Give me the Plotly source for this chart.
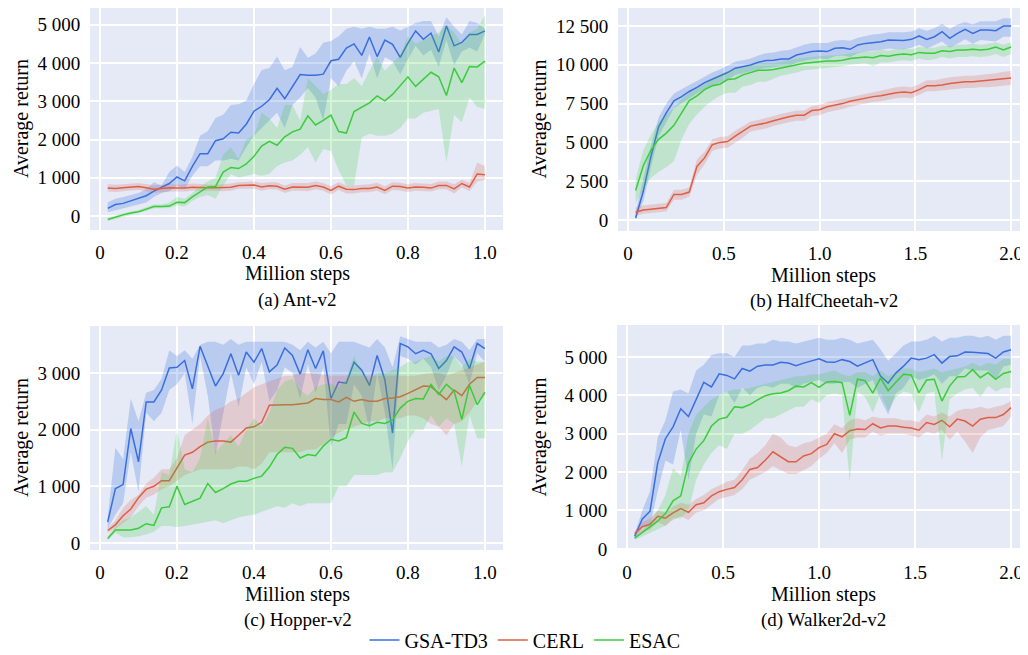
import numpy as np
import plotly.graph_objects as go

# ---------------- data ----------------
series_names = ["GSA-TD3", "CERL", "ESAC"]

steps_1m = np.round(np.arange(1, 51) * 0.02, 2)   # Ant / Hopper evaluation steps (million)
steps_2m = np.round(np.arange(1, 51) * 0.04, 2)   # HalfCheetah / Walker2d evaluation steps (million)

# (a) Ant-v2
ant_gsa = [200,300,330,400,450,530,650,750,850,1020,920,1300,1630,1630,1970,2020,2190,2170,2400,2740,
           2870,3040,3340,3070,3390,3700,3680,3680,3710,4060,4100,4390,4500,4200,4680,4170,4600,4490,4150,4520,
           4840,4620,4780,4290,4970,4450,4540,4750,4750,4840]
ant_gsa_hi = [350,450,500,550,600,700,880,800,1150,1320,1150,1550,2100,2220,2560,2650,2900,2920,3020,3450,
              3820,3870,4170,3810,3900,4420,4140,4250,4530,4580,4700,4900,4950,4900,4950,4900,4900,4950,4850,4950,
              5050,5100,5100,4700,5200,4950,4750,5100,5050,4900]
ant_gsa_lo = [100,150,200,250,300,350,500,600,650,800,700,1050,1300,1300,1450,1450,1500,1450,1800,2100,
              2300,2500,2700,2300,2900,3100,3350,3100,2500,3600,3400,3800,4050,3600,4250,3600,4150,4050,3700,4100,
              4450,4200,4350,3900,4600,3950,4300,4400,4300,4750]
ant_cerl = [730,720,740,760,770,740,700,720,740,730,730,750,740,740,740,740,750,800,800,810,
            760,790,780,700,760,760,750,800,760,670,780,700,690,720,720,760,670,780,770,730,
            760,750,730,800,800,710,850,760,1100,1080]
ant_cerl_hi = [830,820,830,850,860,840,800,820,840,820,830,850,840,820,820,830,850,880,890,900,
               860,880,880,800,860,860,860,900,860,780,880,800,800,820,830,870,780,880,870,830,
               860,850,840,900,900,830,950,860,1400,1300]
ant_cerl_lo = [640,630,650,670,680,650,610,620,640,640,640,660,650,660,660,650,660,710,710,710,
               660,700,690,600,660,660,650,700,660,560,680,590,590,620,620,660,570,680,670,630,
               660,650,640,700,700,590,750,650,900,950]
ant_esac = [-90,-20,30,80,110,180,250,250,260,360,350,500,640,760,770,1150,1270,1240,1360,1560,
            1830,1950,1850,2070,2200,2270,2620,2380,2500,2640,2210,2170,2730,2850,2960,3140,3010,3180,3420,3640,
            3390,3570,3760,3640,3150,3870,3490,3910,3900,4050]
ant_esac_hi = [-50,20,70,120,160,230,300,300,350,500,450,600,780,900,1000,1600,1800,1500,2000,2100,
               2700,2550,2300,2900,2900,2500,3600,3400,3200,3300,3450,3450,3600,3400,3800,4150,3800,4000,4200,4700,
               4500,4600,4700,4800,5000,4800,4500,4800,4900,5250]
ant_esac_lo = [-130,-60,-10,40,80,130,200,200,200,280,250,400,500,550,450,800,1100,1000,1050,1100,
               1050,1100,1300,1400,1450,1600,1800,1400,1750,1700,1200,800,800,2050,2150,2100,2100,2150,2300,2550,
               2550,2700,2750,2800,1400,2650,2450,3100,2850,2800]

# (b) HalfCheetah-v2
hc_gsa = [130,1850,4100,6000,6900,7680,7950,8280,8550,8850,9070,9280,9500,9780,9880,9990,10160,10270,10300,10380,
          10380,10630,10740,10850,10890,10850,11060,11100,11000,11280,11380,11430,11490,11600,11560,11560,11640,11860,11640,11810,
          12130,11700,12020,12280,12020,12240,12240,12200,12500,12500]
hc_gsa_hi = [500,2600,4800,6600,7500,8150,8450,8700,8950,9250,9500,9700,9950,10200,10300,10400,10600,10750,10800,10900,
             10950,11150,11300,11400,11400,11400,11550,11600,11550,11750,11850,11950,12000,12100,12100,12100,12150,12350,12200,12350,
             12650,12300,12600,12750,12600,12800,12800,12800,13000,13000]
hc_gsa_lo = [0,1200,3400,5400,6300,7200,7500,7850,8150,8450,8650,8850,9050,9350,9450,9550,9700,9800,9850,9900,
             9900,10150,10250,10350,10400,10350,10550,10600,10500,10750,10850,10900,10950,11050,11000,11000,11100,11300,11050,11250,
             11500,11100,11350,11650,11350,11600,11550,11500,11800,11800]
hc_cerl = [500,650,700,750,800,1650,1650,1800,3450,4000,4850,5000,5050,5400,5700,6050,6150,6250,6400,6550,
           6650,6750,6750,7050,7100,7300,7400,7500,7650,7750,7850,7950,8000,8100,8200,8250,8200,8400,8650,8650,
           8700,8800,8850,8900,8900,8950,9000,9050,9100,9150]
hc_cerl_hi = [800,950,1000,1050,1100,1950,1950,2100,3900,4400,5200,5350,5400,5750,6050,6350,6450,6550,6700,6850,
              6950,7050,7050,7350,7400,7600,7700,7800,7950,8050,8150,8250,8350,8450,8550,8600,8550,8750,9000,9000,
              9100,9200,9250,9300,9300,9350,9400,9450,9550,9600]
hc_cerl_lo = [250,400,450,500,550,1300,1300,1500,2900,3600,4450,4600,4650,5000,5300,5700,5800,5900,6050,6200,
              6300,6400,6400,6700,6750,6950,7050,7150,7300,7400,7500,7600,7650,7750,7850,7900,7850,8050,8300,8300,
              8350,8400,8450,8500,8500,8550,8550,8600,8650,8700]
hc_esac = [1900,3500,4500,5200,5600,6100,6900,7700,8000,8400,8650,8750,9050,9100,9350,9500,9650,9650,9700,9800,
           9900,10000,10100,10150,10200,10250,10250,10300,10400,10450,10500,10450,10600,10550,10650,10700,10650,10800,10750,10750,
           10900,10850,10950,10950,11000,10950,11000,11150,10950,11150]
hc_esac_hi = [2600,4500,5500,6300,6800,7200,7800,8200,8500,8800,9100,9300,9600,9700,9850,10000,10100,10100,10100,10200,
              10300,10400,10450,10500,10550,10600,10600,10650,10750,10800,10850,10850,10950,10900,11000,11050,11000,11150,11100,11100,
              11250,11200,11300,11300,11350,11300,11350,11450,11300,11450]
hc_esac_lo = [1100,2000,2700,3100,3400,3800,5200,6200,6800,7300,7700,8000,8200,8200,8600,8700,8900,8900,9100,9300,
              9400,9500,9650,9700,9750,9800,9850,9900,10000,10050,10100,9900,10150,10150,10250,10300,10250,10400,10300,10350,
              10500,10400,10500,10500,10550,10500,10550,10700,10500,10700]

# (c) Hopper-v2
hop_gsa = [370,960,1030,2020,1430,2490,2490,2700,3090,3100,3220,2720,3470,3110,2770,2990,3340,2960,3370,3190,
           3430,3020,3140,3440,3310,2980,3410,3080,3390,2550,2840,2820,3190,3050,2780,3310,2880,1940,3520,3460,
           3340,3400,3340,3080,3220,3460,3370,3080,3520,3430]
hop_gsa_hi = [450,1680,1480,2550,2150,2650,2700,2900,3400,3300,3400,3250,3500,3550,3550,3500,3600,3500,3550,3550,
              3550,3550,3550,3550,3500,3400,3550,3450,3550,3350,3550,3550,3550,3500,3450,3600,3450,3100,3650,3600,
              3550,3550,3550,3450,3500,3600,3550,3400,3600,3600]
hop_gsa_lo = [250,500,700,1600,900,2300,2150,2300,2700,2800,3000,2100,3300,2600,1550,2300,3000,2400,3100,2800,
              3200,2500,2700,3100,3000,2550,3150,2650,3100,1700,2100,2100,2800,2600,2000,3000,2300,1300,3300,3250,
              3150,3250,3100,2700,2950,3300,3150,2800,3350,3200]
hop_cerl = [220,320,480,600,800,950,1000,1100,1100,1330,1550,1600,1700,1780,1800,1800,1780,1900,2030,2050,
            2130,2430,2440,2440,2440,2460,2470,2550,2530,2530,2490,2570,2500,2530,2500,2500,2550,2560,2580,2640,
            2700,2770,2760,2650,2530,2700,2600,2800,2920,2920]
hop_cerl_hi = [260,400,620,760,850,1050,1150,1300,1300,1500,1900,2000,2100,2250,2350,2400,2500,2550,2650,2750,
               2800,2850,2900,2950,2950,3000,3000,2980,2970,2950,2950,2950,2950,2950,2950,2950,2950,2950,2950,2950,
               2950,2980,3000,3000,2950,3000,3050,3100,3150,3200]
hop_cerl_lo = [180,250,350,450,650,800,850,950,1000,1100,1200,1250,1300,1300,1300,1300,1300,1350,1350,1300,
               1400,1600,1600,1600,1600,1600,1650,1650,1750,1850,1950,2000,2050,2100,2150,2150,2200,2200,2200,2250,
               2250,2200,2100,2050,1900,2100,2150,2300,2500,2600]
hop_esac = [80,230,230,230,260,340,310,620,640,1000,680,730,790,1050,890,960,1040,1090,1090,1140,
            1180,1340,1560,1690,1670,1500,1560,1540,1710,1830,1800,1860,2310,2110,2070,2130,2110,2170,2380,2500,
            2550,2540,2800,2620,2800,2680,2180,2780,2440,2660]
hop_esac_hi = [120,280,400,450,550,650,500,1250,1200,2000,1300,1250,1500,2200,1600,1750,1900,1700,2000,2200,
               2050,2300,2700,2850,2900,2700,2600,2750,2800,2800,2750,2900,3300,3000,2900,3000,3000,3050,3100,3200,
               3200,3250,3300,3200,3300,3300,3100,3250,3200,3200]
hop_esac_lo = [50,180,100,100,120,150,200,300,300,280,300,320,350,370,400,350,400,450,480,500,
               550,600,650,620,700,650,700,700,700,700,1000,1000,1200,1200,1200,1200,1250,1250,1500,1800,
               2000,2000,2250,2050,2200,2100,1350,2250,1850,1850]

# (d) Walker2d-v2
wk_gsa = [330,780,980,2240,2870,3180,3650,3450,3890,4340,4220,4560,4520,4430,4700,4630,4760,4790,4790,4860,
          4840,4770,4840,4900,4950,4870,4860,4930,4880,4760,4840,4930,4500,4320,4580,4760,4970,4930,4970,5060,
          4840,5010,5030,5130,5120,5100,5090,4970,5130,5190]
wk_gsa_hi = [400,1000,1500,2900,3350,4100,4150,4050,4650,4800,5050,5100,5100,5000,5300,5300,5350,5350,5450,5400,
             5400,5350,5400,5450,5500,5450,5450,5500,5450,5350,5400,5450,5200,4900,5100,5300,5400,5400,5450,5550,
             5400,5500,5500,5550,5550,5500,5550,5450,5550,5550]
wk_gsa_lo = [250,550,600,1500,2300,2200,3100,1800,3000,3500,3450,4000,4100,3800,4200,4000,4200,4250,4200,4300,
             4300,4200,4300,4350,4400,4300,4300,4350,4350,4200,4300,4400,3900,3500,4050,4200,4500,4400,4450,4550,
             4300,4500,4500,4700,4650,4650,4650,4400,4750,4800]
wk_cerl = [400,580,640,850,800,940,1050,950,1150,1200,1380,1490,1550,1600,1800,2070,2120,2310,2530,2390,
           2270,2270,2420,2480,2640,2720,3000,2920,3080,3120,3110,3260,3150,3200,3200,3170,3150,3090,3290,3240,
           3350,3180,3380,3330,3200,3380,3420,3420,3500,3680]
wk_cerl_hi = [450,700,800,1000,950,1100,1200,1150,1300,1400,1550,1650,1750,1800,2050,2350,2500,2700,3000,2900,
              2700,2650,2750,2800,2900,3000,3250,3150,3350,3400,3350,3450,3400,3400,3400,3350,3350,3300,3500,3450,
              3550,3450,3600,3650,3650,3700,3650,3700,3750,3850]
wk_cerl_lo = [350,450,500,700,600,750,850,750,950,1000,1150,1300,1350,1400,1550,1800,1900,2000,2150,2050,
              1950,1950,2050,2150,2350,2500,2750,2500,2850,2900,2900,3050,2950,3000,3000,3000,2950,2900,3050,3000,
              3100,2850,3050,2800,2500,2900,3100,3150,3200,3450]
wk_esac = [280,420,560,720,920,1250,1380,2230,2600,2820,3200,3380,3430,3700,3680,3760,3880,3990,4040,4060,
           4120,4240,4220,4330,4210,4350,4360,4330,3480,4420,4380,4060,4450,4120,4340,4550,4530,4070,4400,4420,
           3850,4240,4480,4490,4670,4460,4590,4420,4570,4620]
wk_esac_hi = [330,500,700,1000,1400,2100,1900,3000,3500,3700,3900,4000,4100,4150,4150,4200,4250,4300,4350,4400,
              4450,4500,4500,4550,4550,4600,4650,4550,4500,4600,4600,4500,4650,4500,4600,4700,4700,4600,4650,4700,
              4600,4650,4700,4750,4850,4750,4850,4800,4950,4950]
wk_esac_lo = [230,320,400,500,600,800,800,1000,1800,2200,2500,2700,2600,3000,3000,3100,3250,3400,3400,3500,
              3600,3700,3700,3900,3800,4000,4050,4000,1750,4100,3950,3550,4050,3600,3950,4100,4050,3550,4050,4100,
              2300,3900,4050,4150,4200,3950,4250,4100,4200,4200]

captions = ["(a) Ant-v2", "(b) HalfCheetah-v2", "(c) Hopper-v2", "(d) Walker2d-v2"]
x_ticks_1m = [0, 0.2, 0.4, 0.6, 0.8, 1.0]
x_ticktext_1m = ["0", "0.2", "0.4", "0.6", "0.8", "1.0"]
x_ticks_2m = [0, 0.5, 1.0, 1.5, 2.0]
x_ticktext_2m = ["0", "0.5", "1.0", "1.5", "2.0"]
y_ticks_ant = [0, 1000, 2000, 3000, 4000, 5000]
y_ticktext_ant = ["0", "1 000", "2 000", "3 000", "4 000", "5 000"]
y_ticks_hc = [0, 2500, 5000, 7500, 10000, 12500]
y_ticktext_hc = ["0", "2 500", "5 000", "7 500", "10 000", "12 500"]
y_ticks_hop = [0, 1000, 2000, 3000]
y_ticktext_hop = ["0", "1 000", "2 000", "3 000"]
y_ticks_wk = [0, 1000, 2000, 3000, 4000, 5000]
y_ticktext_wk = ["0", "1 000", "2 000", "3 000", "4 000", "5 000"]

# ---------------- style ----------------
OFF = 8                     # page body margin of the browser
W, H = 1028 - OFF, 655 - OFF
FONT = "Liberation Serif, Times New Roman, Times, serif"
line_colors = {"GSA-TD3": "#3a6ee0", "CERL": "#dc5f48", "ESAC": "#3ccb3c"}
fill_colors = {"GSA-TD3": "rgba(58,110,224,0.25)", "CERL": "rgba(220,95,72,0.22)", "ESAC": "rgba(60,203,60,0.22)"}


def fx(px):
    return (px - OFF) / W


def fy(py):
    return 1 - (py - OFF) / H


panels = [
    dict(x=steps_1m, data={"GSA-TD3": (ant_gsa, ant_gsa_lo, ant_gsa_hi), "CERL": (ant_cerl, ant_cerl_lo, ant_cerl_hi),
                           "ESAC": (ant_esac, ant_esac_lo, ant_esac_hi)},
         px=(90, 503), py=(8, 230), xr=(-0.026, 1.047), yr=(-366, 5440),
         xt=(x_ticks_1m, x_ticktext_1m), yt=(y_ticks_ant, y_ticktext_ant)),
    dict(x=steps_2m, data={"GSA-TD3": (hc_gsa, hc_gsa_lo, hc_gsa_hi), "CERL": (hc_cerl, hc_cerl_lo, hc_cerl_hi),
                           "ESAC": (hc_esac, hc_esac_lo, hc_esac_hi)},
         px=(618, 1027), py=(8, 231), xr=(-0.052, 2.083), yr=(-709, 13660),
         xt=(x_ticks_2m, x_ticktext_2m), yt=(y_ticks_hc, y_ticktext_hc)),
    dict(x=steps_1m, data={"GSA-TD3": (hop_gsa, hop_gsa_lo, hop_gsa_hi), "CERL": (hop_cerl, hop_cerl_lo, hop_cerl_hi),
                           "ESAC": (hop_esac, hop_esac_lo, hop_esac_hi)},
         px=(90, 503), py=(326, 550), xr=(-0.026, 1.047), yr=(-124, 3829),
         xt=(x_ticks_1m, x_ticktext_1m), yt=(y_ticks_hop, y_ticktext_hop)),
    dict(x=steps_2m, data={"GSA-TD3": (wk_gsa, wk_gsa_lo, wk_gsa_hi), "CERL": (wk_cerl, wk_cerl_lo, wk_cerl_hi),
                           "ESAC": (wk_esac, wk_esac_lo, wk_esac_hi)},
         px=(617, 1027), py=(325, 550), xr=(-0.052, 2.083), yr=(-30, 5833),
         xt=(x_ticks_2m, x_ticktext_2m), yt=(y_ticks_wk, y_ticktext_wk)),
]

fig = go.Figure()
layout_axes = {}
annotations = []

for i, p in enumerate(panels):
    k = "" if i == 0 else str(i + 1)
    xa, ya = "x" + k, "y" + k
    xs = list(p["x"])
    for name in series_names:
        mean, lo, hi = p["data"][name]
        fig.add_trace(go.Scatter(x=xs + xs[::-1], y=list(hi) + list(lo)[::-1], fill="toself",
                                 fillcolor=fill_colors[name], line=dict(width=0), mode="lines",
                                 hoverinfo="skip", showlegend=False, xaxis=xa, yaxis=ya))
        fig.add_trace(go.Scatter(x=xs, y=mean, mode="lines", name=name,
                                 line=dict(color=line_colors[name], width=1.5),
                                 showlegend=(i == 0), xaxis=xa, yaxis=ya))
    x0, x1 = p["px"]
    y0, y1 = p["py"]
    common = dict(showgrid=True, gridcolor="white", gridwidth=1.5, zeroline=False, automargin=False,
                  ticks="outside", tickcolor="rgba(0,0,0,0)", showline=False,
                  tickfont=dict(family=FONT, size=19, color="black"))
    layout_axes["xaxis" + k] = dict(domain=[fx(x0), min(fx(x1), 1.0)], range=list(p["xr"]), anchor=ya,
                                    tickvals=p["xt"][0], ticktext=p["xt"][1], ticklen=5, **common)
    layout_axes["yaxis" + k] = dict(domain=[fy(y1), fy(y0)], range=list(p["yr"]), anchor=xa,
                                    tickvals=p["yt"][0], ticktext=p["yt"][1], ticklen=5, **common)
    cxp = (x0 + 2 + x1) / 2
    # x title
    annotations.append(dict(text="Million steps", x=fx(cxp), y=fy(y1 + 44), xref="paper", yref="paper",
                            showarrow=False, xanchor="center", yanchor="middle",
                            font=dict(family=FONT, size=20, color="black")))
    # caption
    annotations.append(dict(text=captions[i], x=fx(cxp), y=fy(y1 + 70), xref="paper", yref="paper",
                            showarrow=False, xanchor="center", yanchor="middle",
                            font=dict(family=FONT, size=19, color="black")))
    # y title
    ytx = 21 if i % 2 == 0 else 539
    annotations.append(dict(text="Average return", x=fx(ytx), y=fy((y0 + y1) / 2), xref="paper", yref="paper",
                            showarrow=False, textangle=-90, xanchor="center", yanchor="middle",
                            font=dict(family=FONT, size=20, color="black")))

fig.update_layout(
    width=W, height=H, margin=dict(l=0, r=0, t=0, b=0, autoexpand=False),
    paper_bgcolor="white", plot_bgcolor="#E5EAF6",
    font=dict(family=FONT, size=18, color="black"),
    showlegend=True,
    legend=dict(orientation="h", x=fx(525), y=fy(640), xanchor="center", yanchor="middle",
                font=dict(family=FONT, size=20, color="black"), bgcolor="rgba(0,0,0,0)",
                itemwidth=30, tracegroupgap=0),
    annotations=annotations,
    **layout_axes,
)

fig.write_html("out.html")
